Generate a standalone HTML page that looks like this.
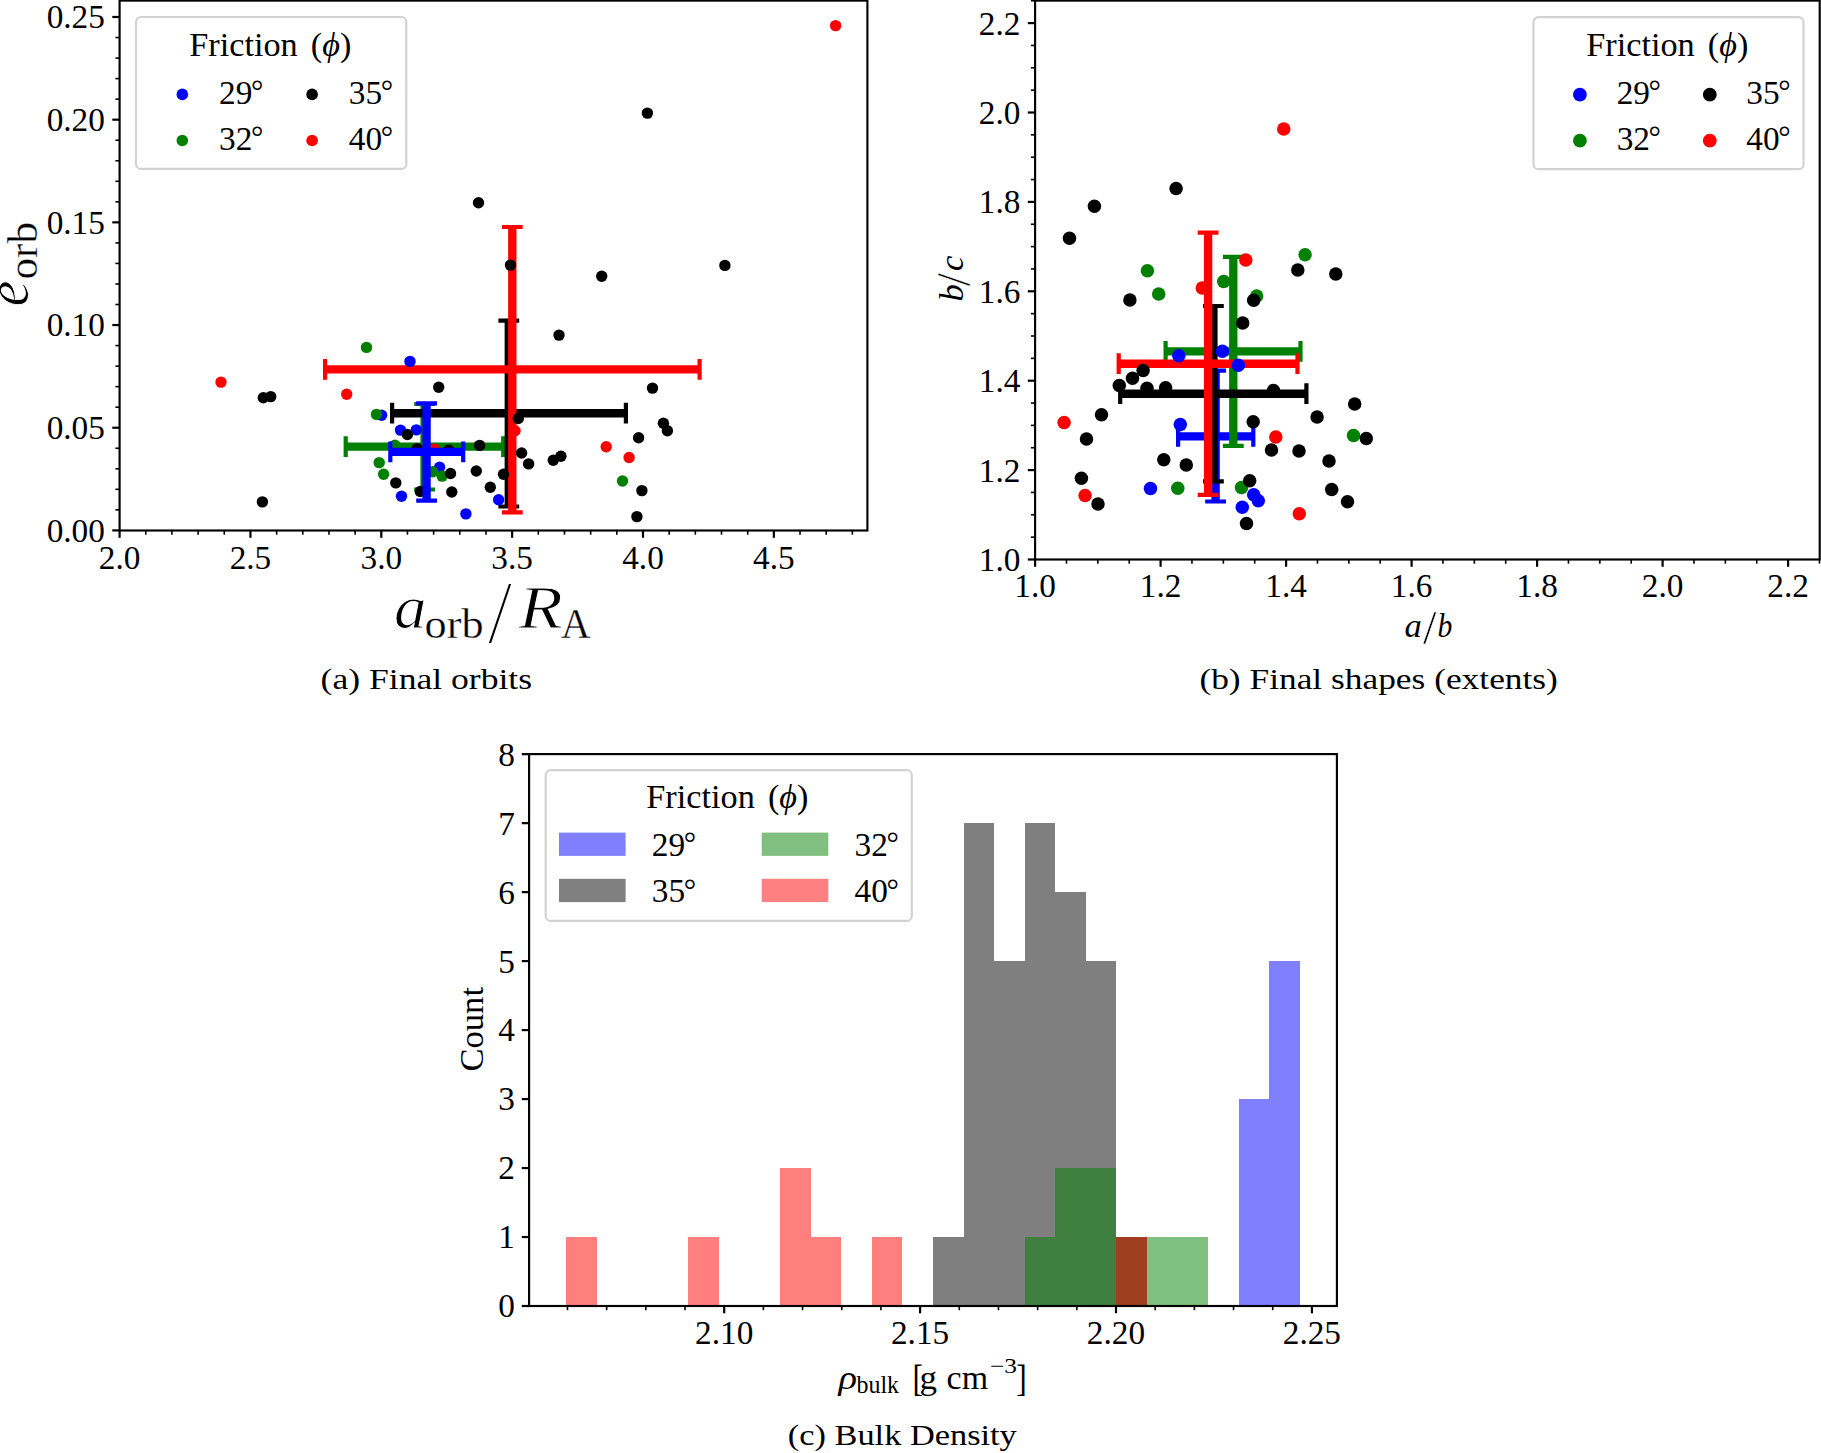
<!DOCTYPE html>
<html lang="en"><head><meta charset="utf-8"><title>Friction figure</title>
<style>html,body{margin:0;padding:0;background:#fff}svg{display:block}text{fill:#000}</style></head><body>
<svg width="1821" height="1453" viewBox="0 0 1821 1453" font-family='"Liberation Serif", "DejaVu Serif", serif'>
<rect width="1821" height="1453" fill="#fff"/>
<g id="plot-a">
<g stroke="#008000" fill="none">
<path d="M345.7 446.6H503.2M424.6 404V489.5" stroke-width="8.35"/>
<path d="M345.7 436.2v20.8M503.2 436.2v20.8M414.2 404h20.8M414.2 489.5h20.8" stroke-width="4.2"/>
</g>
<g stroke="#000000" fill="none">
<path d="M392.1 413.2H625.9M508.8 320.6V506.5" stroke-width="8.35"/>
<path d="M392.1 402.8v20.8M625.9 402.8v20.8M498.4 320.6h20.8M498.4 506.5h20.8" stroke-width="4.2"/>
</g>
<g stroke="#ff0000" fill="none">
<path d="M325.1 369.3H699.6M512.3 227V512.3" stroke-width="8.35"/>
<path d="M325.1 358.9v20.8M699.6 358.9v20.8M501.9 227h20.8M501.9 512.3h20.8" stroke-width="4.2"/>
</g>
<g fill="#0000ff"><circle cx="410" cy="361.4" r="5.7"/><circle cx="381.6" cy="415.2" r="5.7"/><circle cx="400.5" cy="430.1" r="5.7"/><circle cx="416.3" cy="429.9" r="5.7"/><circle cx="439.6" cy="467.2" r="5.7"/><circle cx="401.5" cy="496.2" r="5.7"/><circle cx="498.6" cy="499.8" r="5.7"/><circle cx="465.9" cy="513.9" r="5.7"/></g>
<g fill="#008000"><circle cx="366.5" cy="347.4" r="5.7"/><circle cx="376.5" cy="414.4" r="5.7"/><circle cx="395" cy="445.3" r="5.7"/><circle cx="379.2" cy="462.6" r="5.7"/><circle cx="383.6" cy="474.2" r="5.7"/><circle cx="432.7" cy="471.7" r="5.7"/><circle cx="442.1" cy="476.1" r="5.7"/><circle cx="622.5" cy="481" r="5.7"/></g>
<g fill="#000000"><circle cx="263.3" cy="397.8" r="5.7"/><circle cx="270.7" cy="396.6" r="5.7"/><circle cx="262.4" cy="501.9" r="5.7"/><circle cx="438.7" cy="387.2" r="5.7"/><circle cx="407.4" cy="434.5" r="5.7"/><circle cx="417.1" cy="448.6" r="5.7"/><circle cx="448.7" cy="450.1" r="5.7"/><circle cx="479.6" cy="445.4" r="5.7"/><circle cx="450.5" cy="473.5" r="5.7"/><circle cx="476.3" cy="471" r="5.7"/><circle cx="503.5" cy="474.2" r="5.7"/><circle cx="395.8" cy="482.9" r="5.7"/><circle cx="420.3" cy="491.5" r="5.7"/><circle cx="451.8" cy="492" r="5.7"/><circle cx="490.3" cy="487.2" r="5.7"/><circle cx="518.3" cy="418.5" r="5.7"/><circle cx="559" cy="335.1" r="5.7"/><circle cx="652.5" cy="388.1" r="5.7"/><circle cx="663.4" cy="423.2" r="5.7"/><circle cx="667.4" cy="430.8" r="5.7"/><circle cx="638.6" cy="437.8" r="5.7"/><circle cx="521.6" cy="453" r="5.7"/><circle cx="528.6" cy="463.9" r="5.7"/><circle cx="560.9" cy="456.2" r="5.7"/><circle cx="553.3" cy="460.2" r="5.7"/><circle cx="641.9" cy="490.6" r="5.7"/><circle cx="636.9" cy="516.6" r="5.7"/><circle cx="647.4" cy="113.1" r="5.7"/><circle cx="478.5" cy="202.7" r="5.7"/><circle cx="510.5" cy="265.1" r="5.7"/><circle cx="601.7" cy="276.2" r="5.7"/><circle cx="724.9" cy="265.4" r="5.7"/></g>
<g fill="#ff0000"><circle cx="221" cy="382.1" r="5.7"/><circle cx="346.7" cy="394.3" r="5.7"/><circle cx="434.2" cy="449.1" r="5.7"/><circle cx="515" cy="430.7" r="5.7"/><circle cx="606.2" cy="446.7" r="5.7"/><circle cx="629.1" cy="457.5" r="5.7"/><circle cx="835.6" cy="25.6" r="5.7"/></g>
<g stroke="#0000ff" fill="none">
<path d="M390.3 451.9H463.2M426.6 403.3V500.6" stroke-width="8.35"/>
<path d="M390.3 441.5v20.8M463.2 441.5v20.8M416.2 403.3h20.8M416.2 500.6h20.8" stroke-width="4.2"/>
</g>
<g stroke="#000">
<line x1="112.3" y1="530.4" x2="119.6" y2="530.4" stroke="#000" stroke-width="2.2" stroke-linecap="butt"/>
<line x1="115.4" y1="509.86" x2="119.6" y2="509.86" stroke="#000" stroke-width="1.6" stroke-linecap="butt"/>
<line x1="115.4" y1="489.33" x2="119.6" y2="489.33" stroke="#000" stroke-width="1.6" stroke-linecap="butt"/>
<line x1="115.4" y1="468.79" x2="119.6" y2="468.79" stroke="#000" stroke-width="1.6" stroke-linecap="butt"/>
<line x1="115.4" y1="448.26" x2="119.6" y2="448.26" stroke="#000" stroke-width="1.6" stroke-linecap="butt"/>
<line x1="112.3" y1="427.72" x2="119.6" y2="427.72" stroke="#000" stroke-width="2.2" stroke-linecap="butt"/>
<line x1="115.4" y1="407.18" x2="119.6" y2="407.18" stroke="#000" stroke-width="1.6" stroke-linecap="butt"/>
<line x1="115.4" y1="386.65" x2="119.6" y2="386.65" stroke="#000" stroke-width="1.6" stroke-linecap="butt"/>
<line x1="115.4" y1="366.11" x2="119.6" y2="366.11" stroke="#000" stroke-width="1.6" stroke-linecap="butt"/>
<line x1="115.4" y1="345.58" x2="119.6" y2="345.58" stroke="#000" stroke-width="1.6" stroke-linecap="butt"/>
<line x1="112.3" y1="325.04" x2="119.6" y2="325.04" stroke="#000" stroke-width="2.2" stroke-linecap="butt"/>
<line x1="115.4" y1="304.5" x2="119.6" y2="304.5" stroke="#000" stroke-width="1.6" stroke-linecap="butt"/>
<line x1="115.4" y1="283.97" x2="119.6" y2="283.97" stroke="#000" stroke-width="1.6" stroke-linecap="butt"/>
<line x1="115.4" y1="263.43" x2="119.6" y2="263.43" stroke="#000" stroke-width="1.6" stroke-linecap="butt"/>
<line x1="115.4" y1="242.9" x2="119.6" y2="242.9" stroke="#000" stroke-width="1.6" stroke-linecap="butt"/>
<line x1="112.3" y1="222.36" x2="119.6" y2="222.36" stroke="#000" stroke-width="2.2" stroke-linecap="butt"/>
<line x1="115.4" y1="201.82" x2="119.6" y2="201.82" stroke="#000" stroke-width="1.6" stroke-linecap="butt"/>
<line x1="115.4" y1="181.29" x2="119.6" y2="181.29" stroke="#000" stroke-width="1.6" stroke-linecap="butt"/>
<line x1="115.4" y1="160.75" x2="119.6" y2="160.75" stroke="#000" stroke-width="1.6" stroke-linecap="butt"/>
<line x1="115.4" y1="140.22" x2="119.6" y2="140.22" stroke="#000" stroke-width="1.6" stroke-linecap="butt"/>
<line x1="112.3" y1="119.68" x2="119.6" y2="119.68" stroke="#000" stroke-width="2.2" stroke-linecap="butt"/>
<line x1="115.4" y1="99.14" x2="119.6" y2="99.14" stroke="#000" stroke-width="1.6" stroke-linecap="butt"/>
<line x1="115.4" y1="78.61" x2="119.6" y2="78.61" stroke="#000" stroke-width="1.6" stroke-linecap="butt"/>
<line x1="115.4" y1="58.07" x2="119.6" y2="58.07" stroke="#000" stroke-width="1.6" stroke-linecap="butt"/>
<line x1="115.4" y1="37.54" x2="119.6" y2="37.54" stroke="#000" stroke-width="1.6" stroke-linecap="butt"/>
<line x1="112.3" y1="17" x2="119.6" y2="17" stroke="#000" stroke-width="2.2" stroke-linecap="butt"/>
<line x1="119.6" y1="530.5" x2="119.6" y2="537.8" stroke="#000" stroke-width="2.2" stroke-linecap="butt"/>
<line x1="145.77" y1="530.5" x2="145.77" y2="534.7" stroke="#000" stroke-width="1.6" stroke-linecap="butt"/>
<line x1="171.94" y1="530.5" x2="171.94" y2="534.7" stroke="#000" stroke-width="1.6" stroke-linecap="butt"/>
<line x1="198.11" y1="530.5" x2="198.11" y2="534.7" stroke="#000" stroke-width="1.6" stroke-linecap="butt"/>
<line x1="224.28" y1="530.5" x2="224.28" y2="534.7" stroke="#000" stroke-width="1.6" stroke-linecap="butt"/>
<line x1="250.45" y1="530.5" x2="250.45" y2="537.8" stroke="#000" stroke-width="2.2" stroke-linecap="butt"/>
<line x1="276.62" y1="530.5" x2="276.62" y2="534.7" stroke="#000" stroke-width="1.6" stroke-linecap="butt"/>
<line x1="302.79" y1="530.5" x2="302.79" y2="534.7" stroke="#000" stroke-width="1.6" stroke-linecap="butt"/>
<line x1="328.96" y1="530.5" x2="328.96" y2="534.7" stroke="#000" stroke-width="1.6" stroke-linecap="butt"/>
<line x1="355.13" y1="530.5" x2="355.13" y2="534.7" stroke="#000" stroke-width="1.6" stroke-linecap="butt"/>
<line x1="381.3" y1="530.5" x2="381.3" y2="537.8" stroke="#000" stroke-width="2.2" stroke-linecap="butt"/>
<line x1="407.47" y1="530.5" x2="407.47" y2="534.7" stroke="#000" stroke-width="1.6" stroke-linecap="butt"/>
<line x1="433.64" y1="530.5" x2="433.64" y2="534.7" stroke="#000" stroke-width="1.6" stroke-linecap="butt"/>
<line x1="459.81" y1="530.5" x2="459.81" y2="534.7" stroke="#000" stroke-width="1.6" stroke-linecap="butt"/>
<line x1="485.98" y1="530.5" x2="485.98" y2="534.7" stroke="#000" stroke-width="1.6" stroke-linecap="butt"/>
<line x1="512.15" y1="530.5" x2="512.15" y2="537.8" stroke="#000" stroke-width="2.2" stroke-linecap="butt"/>
<line x1="538.32" y1="530.5" x2="538.32" y2="534.7" stroke="#000" stroke-width="1.6" stroke-linecap="butt"/>
<line x1="564.49" y1="530.5" x2="564.49" y2="534.7" stroke="#000" stroke-width="1.6" stroke-linecap="butt"/>
<line x1="590.66" y1="530.5" x2="590.66" y2="534.7" stroke="#000" stroke-width="1.6" stroke-linecap="butt"/>
<line x1="616.83" y1="530.5" x2="616.83" y2="534.7" stroke="#000" stroke-width="1.6" stroke-linecap="butt"/>
<line x1="643" y1="530.5" x2="643" y2="537.8" stroke="#000" stroke-width="2.2" stroke-linecap="butt"/>
<line x1="669.17" y1="530.5" x2="669.17" y2="534.7" stroke="#000" stroke-width="1.6" stroke-linecap="butt"/>
<line x1="695.34" y1="530.5" x2="695.34" y2="534.7" stroke="#000" stroke-width="1.6" stroke-linecap="butt"/>
<line x1="721.51" y1="530.5" x2="721.51" y2="534.7" stroke="#000" stroke-width="1.6" stroke-linecap="butt"/>
<line x1="747.68" y1="530.5" x2="747.68" y2="534.7" stroke="#000" stroke-width="1.6" stroke-linecap="butt"/>
<line x1="773.85" y1="530.5" x2="773.85" y2="537.8" stroke="#000" stroke-width="2.2" stroke-linecap="butt"/>
<line x1="800.02" y1="530.5" x2="800.02" y2="534.7" stroke="#000" stroke-width="1.6" stroke-linecap="butt"/>
<line x1="826.19" y1="530.5" x2="826.19" y2="534.7" stroke="#000" stroke-width="1.6" stroke-linecap="butt"/>
<line x1="852.36" y1="530.5" x2="852.36" y2="534.7" stroke="#000" stroke-width="1.6" stroke-linecap="butt"/>
</g>
<rect x="119.6" y="0.6" width="747.8" height="529.9" fill="none" stroke="#000" stroke-width="2.15"/>
<text x="104.9" y="541.8" font-size="34.4" text-anchor="end" textLength="58.27" lengthAdjust="spacingAndGlyphs">0.00</text>
<text x="104.9" y="439.12" font-size="34.4" text-anchor="end" textLength="58.27" lengthAdjust="spacingAndGlyphs">0.05</text>
<text x="104.9" y="336.44" font-size="34.4" text-anchor="end" textLength="58.27" lengthAdjust="spacingAndGlyphs">0.10</text>
<text x="104.9" y="233.76" font-size="34.4" text-anchor="end" textLength="58.27" lengthAdjust="spacingAndGlyphs">0.15</text>
<text x="104.9" y="131.08" font-size="34.4" text-anchor="end" textLength="58.27" lengthAdjust="spacingAndGlyphs">0.20</text>
<text x="104.9" y="28.4" font-size="34.4" text-anchor="end" textLength="58.27" lengthAdjust="spacingAndGlyphs">0.25</text>
<text x="119.6" y="568.8" font-size="34.4" text-anchor="middle" textLength="41.62" lengthAdjust="spacingAndGlyphs">2.0</text>
<text x="250.45" y="568.8" font-size="34.4" text-anchor="middle" textLength="41.62" lengthAdjust="spacingAndGlyphs">2.5</text>
<text x="381.3" y="568.8" font-size="34.4" text-anchor="middle" textLength="41.62" lengthAdjust="spacingAndGlyphs">3.0</text>
<text x="512.15" y="568.8" font-size="34.4" text-anchor="middle" textLength="41.62" lengthAdjust="spacingAndGlyphs">3.5</text>
<text x="643" y="568.8" font-size="34.4" text-anchor="middle" textLength="41.62" lengthAdjust="spacingAndGlyphs">4.0</text>
<text x="773.85" y="568.8" font-size="34.4" text-anchor="middle" textLength="41.62" lengthAdjust="spacingAndGlyphs">4.5</text>
<rect x="136" y="17" width="270.3" height="151.9" rx="5" ry="5" fill="#fff" fill-opacity="0.8" stroke="#d2d2d2" stroke-width="2.2"/>
<text x="189.2" y="56" font-size="33.3" textLength="108.5" lengthAdjust="spacingAndGlyphs">Friction</text>
<text x="310.8" y="56" font-size="33.3" textLength="40.5" lengthAdjust="spacingAndGlyphs">(<tspan font-style="italic">ϕ</tspan>)</text>
<circle cx="182.3" cy="94.4" r="5.8" fill="#0000ff"/>
<circle cx="182.3" cy="140.5" r="5.8" fill="#008000"/>
<circle cx="312.1" cy="94.4" r="5.8" fill="#000000"/>
<circle cx="312.1" cy="140.5" r="5.8" fill="#ff0000"/>
<text x="219" y="103.8" font-size="34.4" textLength="33.3" lengthAdjust="spacingAndGlyphs">29</text>
<text x="250.9" y="102.1" font-size="31">°</text>
<text x="219" y="149.7" font-size="34.4" textLength="33.3" lengthAdjust="spacingAndGlyphs">32</text>
<text x="250.9" y="148" font-size="31">°</text>
<text x="348.8" y="103.8" font-size="34.4" textLength="33.3" lengthAdjust="spacingAndGlyphs">35</text>
<text x="380.7" y="102.1" font-size="31">°</text>
<text x="348.8" y="149.7" font-size="34.4" textLength="33.3" lengthAdjust="spacingAndGlyphs">40</text>
<text x="380.7" y="148" font-size="31">°</text>
<text x="394" y="628.3" font-size="61" font-style="italic" stroke="#fff" stroke-width="0.9" textLength="32.5" lengthAdjust="spacingAndGlyphs">a</text>
<text x="424.6" y="638.3" font-size="42.5" stroke="#fff" stroke-width="0.35" textLength="59" lengthAdjust="spacingAndGlyphs">orb</text>
<text x="487.4" y="643.4" font-size="90" stroke="#fff" stroke-width="2">/</text>
<text x="518.8" y="628.3" font-size="61" font-style="italic" stroke="#fff" stroke-width="0.9" textLength="44" lengthAdjust="spacingAndGlyphs">R</text>
<text x="561" y="638.3" font-size="42" stroke="#fff" stroke-width="0.35" textLength="29.5" lengthAdjust="spacingAndGlyphs">A</text>
<g transform="rotate(-90)">
<text x="-306.5" y="28.4" font-size="61" font-style="italic" stroke="#fff" stroke-width="0.9" textLength="26" lengthAdjust="spacingAndGlyphs">e</text>
<text x="-279.5" y="37" font-size="42.5" stroke="#fff" stroke-width="0.35" textLength="57.5" lengthAdjust="spacingAndGlyphs">orb</text>
</g>
<text x="320.6" y="688.5" font-size="30" textLength="211.5" lengthAdjust="spacingAndGlyphs">(a) Final orbits</text>
</g>
<g id="plot-b">
<g stroke="#0000ff" fill="none">
<path d="M1178.1 436.4H1253.3M1215.6 370.6V501.5" stroke-width="8.35"/>
<path d="M1178.1 426v20.8M1253.3 426v20.8M1205.2 370.6h20.8M1205.2 501.5h20.8" stroke-width="4.2"/>
</g>
<g stroke="#008000" fill="none">
<path d="M1165.6 351.3H1300.5M1233.3 256.9V445.8" stroke-width="8.35"/>
<path d="M1165.6 340.9v20.8M1300.5 340.9v20.8M1222.9 256.9h20.8M1222.9 445.8h20.8" stroke-width="4.2"/>
</g>
<g stroke="#000000" fill="none">
<path d="M1120.2 393.7H1306.4M1213.4 306V481.4" stroke-width="8.35"/>
<path d="M1120.2 383.3v20.8M1306.4 383.3v20.8M1203 306h20.8M1203 481.4h20.8" stroke-width="4.2"/>
</g>
<g stroke="#ff0000" fill="none">
<path d="M1118.7 363.7H1297.5M1208.1 232.7V494.8" stroke-width="8.35"/>
<path d="M1118.7 353.3v20.8M1297.5 353.3v20.8M1197.7 232.7h20.8M1197.7 494.8h20.8" stroke-width="4.2"/>
</g>
<g fill="#0000ff"><circle cx="1178.8" cy="355.7" r="6.75"/><circle cx="1222.4" cy="351.3" r="6.75"/><circle cx="1238.3" cy="365.2" r="6.75"/><circle cx="1180.3" cy="424.4" r="6.75"/><circle cx="1253.7" cy="494.8" r="6.75"/><circle cx="1258.3" cy="500.8" r="6.75"/><circle cx="1242.3" cy="507.2" r="6.75"/><circle cx="1150.5" cy="488.4" r="6.75"/></g>
<g fill="#008000"><circle cx="1147.4" cy="270.7" r="6.75"/><circle cx="1158.7" cy="294.1" r="6.75"/><circle cx="1223.7" cy="281.6" r="6.75"/><circle cx="1256.7" cy="296.1" r="6.75"/><circle cx="1305.1" cy="254.8" r="6.75"/><circle cx="1177.8" cy="488.2" r="6.75"/><circle cx="1241.5" cy="487.4" r="6.75"/><circle cx="1353.5" cy="435.5" r="6.75"/></g>
<g fill="#000000"><circle cx="1176.1" cy="188.4" r="6.75"/><circle cx="1094.4" cy="206.3" r="6.75"/><circle cx="1069.5" cy="238.2" r="6.75"/><circle cx="1129.9" cy="299.9" r="6.75"/><circle cx="1253.7" cy="300.2" r="6.75"/><circle cx="1242.7" cy="323.1" r="6.75"/><circle cx="1143.1" cy="370.6" r="6.75"/><circle cx="1132.5" cy="378.3" r="6.75"/><circle cx="1119.3" cy="385.4" r="6.75"/><circle cx="1147" cy="388.2" r="6.75"/><circle cx="1165.6" cy="387.8" r="6.75"/><circle cx="1101.5" cy="414.8" r="6.75"/><circle cx="1086.5" cy="438.9" r="6.75"/><circle cx="1273.5" cy="390.4" r="6.75"/><circle cx="1253.2" cy="421.8" r="6.75"/><circle cx="1317.1" cy="417" r="6.75"/><circle cx="1271.5" cy="450" r="6.75"/><circle cx="1299" cy="451" r="6.75"/><circle cx="1329" cy="460.9" r="6.75"/><circle cx="1163.8" cy="459.8" r="6.75"/><circle cx="1186.3" cy="465.1" r="6.75"/><circle cx="1249.7" cy="480.8" r="6.75"/><circle cx="1246.5" cy="523.6" r="6.75"/><circle cx="1331.7" cy="489.6" r="6.75"/><circle cx="1297.8" cy="270" r="6.75"/><circle cx="1335.8" cy="274" r="6.75"/><circle cx="1354.7" cy="404.1" r="6.75"/><circle cx="1366.3" cy="438.5" r="6.75"/><circle cx="1347.5" cy="501.7" r="6.75"/><circle cx="1081.4" cy="478.3" r="6.75"/><circle cx="1098" cy="504" r="6.75"/></g>
<g fill="#ff0000"><circle cx="1283.75" cy="128.9" r="6.75"/><circle cx="1245.8" cy="260" r="6.75"/><circle cx="1202.3" cy="287.9" r="6.75"/><circle cx="1064.1" cy="422.4" r="6.75"/><circle cx="1275.8" cy="437" r="6.75"/><circle cx="1299.3" cy="513.8" r="6.75"/><circle cx="1085.1" cy="495.6" r="6.75"/></g>
<g stroke="#000">
<line x1="1027.8" y1="559.5" x2="1035.1" y2="559.5" stroke="#000" stroke-width="2.2" stroke-linecap="butt"/>
<line x1="1030.9" y1="537.15" x2="1035.1" y2="537.15" stroke="#000" stroke-width="1.6" stroke-linecap="butt"/>
<line x1="1030.9" y1="514.8" x2="1035.1" y2="514.8" stroke="#000" stroke-width="1.6" stroke-linecap="butt"/>
<line x1="1030.9" y1="492.45" x2="1035.1" y2="492.45" stroke="#000" stroke-width="1.6" stroke-linecap="butt"/>
<line x1="1027.8" y1="470.1" x2="1035.1" y2="470.1" stroke="#000" stroke-width="2.2" stroke-linecap="butt"/>
<line x1="1030.9" y1="447.75" x2="1035.1" y2="447.75" stroke="#000" stroke-width="1.6" stroke-linecap="butt"/>
<line x1="1030.9" y1="425.4" x2="1035.1" y2="425.4" stroke="#000" stroke-width="1.6" stroke-linecap="butt"/>
<line x1="1030.9" y1="403.05" x2="1035.1" y2="403.05" stroke="#000" stroke-width="1.6" stroke-linecap="butt"/>
<line x1="1027.8" y1="380.7" x2="1035.1" y2="380.7" stroke="#000" stroke-width="2.2" stroke-linecap="butt"/>
<line x1="1030.9" y1="358.35" x2="1035.1" y2="358.35" stroke="#000" stroke-width="1.6" stroke-linecap="butt"/>
<line x1="1030.9" y1="336" x2="1035.1" y2="336" stroke="#000" stroke-width="1.6" stroke-linecap="butt"/>
<line x1="1030.9" y1="313.65" x2="1035.1" y2="313.65" stroke="#000" stroke-width="1.6" stroke-linecap="butt"/>
<line x1="1027.8" y1="291.3" x2="1035.1" y2="291.3" stroke="#000" stroke-width="2.2" stroke-linecap="butt"/>
<line x1="1030.9" y1="268.95" x2="1035.1" y2="268.95" stroke="#000" stroke-width="1.6" stroke-linecap="butt"/>
<line x1="1030.9" y1="246.6" x2="1035.1" y2="246.6" stroke="#000" stroke-width="1.6" stroke-linecap="butt"/>
<line x1="1030.9" y1="224.25" x2="1035.1" y2="224.25" stroke="#000" stroke-width="1.6" stroke-linecap="butt"/>
<line x1="1027.8" y1="201.9" x2="1035.1" y2="201.9" stroke="#000" stroke-width="2.2" stroke-linecap="butt"/>
<line x1="1030.9" y1="179.55" x2="1035.1" y2="179.55" stroke="#000" stroke-width="1.6" stroke-linecap="butt"/>
<line x1="1030.9" y1="157.2" x2="1035.1" y2="157.2" stroke="#000" stroke-width="1.6" stroke-linecap="butt"/>
<line x1="1030.9" y1="134.85" x2="1035.1" y2="134.85" stroke="#000" stroke-width="1.6" stroke-linecap="butt"/>
<line x1="1027.8" y1="112.5" x2="1035.1" y2="112.5" stroke="#000" stroke-width="2.2" stroke-linecap="butt"/>
<line x1="1030.9" y1="90.15" x2="1035.1" y2="90.15" stroke="#000" stroke-width="1.6" stroke-linecap="butt"/>
<line x1="1030.9" y1="67.8" x2="1035.1" y2="67.8" stroke="#000" stroke-width="1.6" stroke-linecap="butt"/>
<line x1="1030.9" y1="45.45" x2="1035.1" y2="45.45" stroke="#000" stroke-width="1.6" stroke-linecap="butt"/>
<line x1="1027.8" y1="23.1" x2="1035.1" y2="23.1" stroke="#000" stroke-width="2.2" stroke-linecap="butt"/>
<line x1="1030.9" y1="0.75" x2="1035.1" y2="0.75" stroke="#000" stroke-width="1.6" stroke-linecap="butt"/>
<line x1="1035.1" y1="559.5" x2="1035.1" y2="566.8" stroke="#000" stroke-width="2.2" stroke-linecap="butt"/>
<line x1="1066.47" y1="559.5" x2="1066.47" y2="563.7" stroke="#000" stroke-width="1.6" stroke-linecap="butt"/>
<line x1="1097.85" y1="559.5" x2="1097.85" y2="563.7" stroke="#000" stroke-width="1.6" stroke-linecap="butt"/>
<line x1="1129.22" y1="559.5" x2="1129.22" y2="563.7" stroke="#000" stroke-width="1.6" stroke-linecap="butt"/>
<line x1="1160.6" y1="559.5" x2="1160.6" y2="566.8" stroke="#000" stroke-width="2.2" stroke-linecap="butt"/>
<line x1="1191.97" y1="559.5" x2="1191.97" y2="563.7" stroke="#000" stroke-width="1.6" stroke-linecap="butt"/>
<line x1="1223.35" y1="559.5" x2="1223.35" y2="563.7" stroke="#000" stroke-width="1.6" stroke-linecap="butt"/>
<line x1="1254.72" y1="559.5" x2="1254.72" y2="563.7" stroke="#000" stroke-width="1.6" stroke-linecap="butt"/>
<line x1="1286.1" y1="559.5" x2="1286.1" y2="566.8" stroke="#000" stroke-width="2.2" stroke-linecap="butt"/>
<line x1="1317.47" y1="559.5" x2="1317.47" y2="563.7" stroke="#000" stroke-width="1.6" stroke-linecap="butt"/>
<line x1="1348.85" y1="559.5" x2="1348.85" y2="563.7" stroke="#000" stroke-width="1.6" stroke-linecap="butt"/>
<line x1="1380.22" y1="559.5" x2="1380.22" y2="563.7" stroke="#000" stroke-width="1.6" stroke-linecap="butt"/>
<line x1="1411.6" y1="559.5" x2="1411.6" y2="566.8" stroke="#000" stroke-width="2.2" stroke-linecap="butt"/>
<line x1="1442.97" y1="559.5" x2="1442.97" y2="563.7" stroke="#000" stroke-width="1.6" stroke-linecap="butt"/>
<line x1="1474.35" y1="559.5" x2="1474.35" y2="563.7" stroke="#000" stroke-width="1.6" stroke-linecap="butt"/>
<line x1="1505.72" y1="559.5" x2="1505.72" y2="563.7" stroke="#000" stroke-width="1.6" stroke-linecap="butt"/>
<line x1="1537.1" y1="559.5" x2="1537.1" y2="566.8" stroke="#000" stroke-width="2.2" stroke-linecap="butt"/>
<line x1="1568.47" y1="559.5" x2="1568.47" y2="563.7" stroke="#000" stroke-width="1.6" stroke-linecap="butt"/>
<line x1="1599.85" y1="559.5" x2="1599.85" y2="563.7" stroke="#000" stroke-width="1.6" stroke-linecap="butt"/>
<line x1="1631.22" y1="559.5" x2="1631.22" y2="563.7" stroke="#000" stroke-width="1.6" stroke-linecap="butt"/>
<line x1="1662.6" y1="559.5" x2="1662.6" y2="566.8" stroke="#000" stroke-width="2.2" stroke-linecap="butt"/>
<line x1="1693.97" y1="559.5" x2="1693.97" y2="563.7" stroke="#000" stroke-width="1.6" stroke-linecap="butt"/>
<line x1="1725.35" y1="559.5" x2="1725.35" y2="563.7" stroke="#000" stroke-width="1.6" stroke-linecap="butt"/>
<line x1="1756.73" y1="559.5" x2="1756.73" y2="563.7" stroke="#000" stroke-width="1.6" stroke-linecap="butt"/>
<line x1="1788.1" y1="559.5" x2="1788.1" y2="566.8" stroke="#000" stroke-width="2.2" stroke-linecap="butt"/>
<line x1="1819.47" y1="559.5" x2="1819.47" y2="563.7" stroke="#000" stroke-width="1.6" stroke-linecap="butt"/>
</g>
<rect x="1035.1" y="0.6" width="784.6" height="558.9" fill="none" stroke="#000" stroke-width="2.15"/>
<text x="1020.4" y="571" font-size="34.4" text-anchor="end" textLength="41.62" lengthAdjust="spacingAndGlyphs">1.0</text>
<text x="1035.1" y="596.8" font-size="34.4" text-anchor="middle" textLength="41.62" lengthAdjust="spacingAndGlyphs">1.0</text>
<text x="1020.4" y="481.6" font-size="34.4" text-anchor="end" textLength="41.62" lengthAdjust="spacingAndGlyphs">1.2</text>
<text x="1160.6" y="596.8" font-size="34.4" text-anchor="middle" textLength="41.62" lengthAdjust="spacingAndGlyphs">1.2</text>
<text x="1020.4" y="392.2" font-size="34.4" text-anchor="end" textLength="41.62" lengthAdjust="spacingAndGlyphs">1.4</text>
<text x="1286.1" y="596.8" font-size="34.4" text-anchor="middle" textLength="41.62" lengthAdjust="spacingAndGlyphs">1.4</text>
<text x="1020.4" y="302.8" font-size="34.4" text-anchor="end" textLength="41.62" lengthAdjust="spacingAndGlyphs">1.6</text>
<text x="1411.6" y="596.8" font-size="34.4" text-anchor="middle" textLength="41.62" lengthAdjust="spacingAndGlyphs">1.6</text>
<text x="1020.4" y="213.4" font-size="34.4" text-anchor="end" textLength="41.62" lengthAdjust="spacingAndGlyphs">1.8</text>
<text x="1537.1" y="596.8" font-size="34.4" text-anchor="middle" textLength="41.62" lengthAdjust="spacingAndGlyphs">1.8</text>
<text x="1020.4" y="124" font-size="34.4" text-anchor="end" textLength="41.62" lengthAdjust="spacingAndGlyphs">2.0</text>
<text x="1662.6" y="596.8" font-size="34.4" text-anchor="middle" textLength="41.62" lengthAdjust="spacingAndGlyphs">2.0</text>
<text x="1020.4" y="34.6" font-size="34.4" text-anchor="end" textLength="41.62" lengthAdjust="spacingAndGlyphs">2.2</text>
<text x="1788.1" y="596.8" font-size="34.4" text-anchor="middle" textLength="41.62" lengthAdjust="spacingAndGlyphs">2.2</text>
<rect x="1533.5" y="17.1" width="270" height="152.1" rx="5" ry="5" fill="#fff" fill-opacity="0.8" stroke="#d2d2d2" stroke-width="2.2"/>
<text x="1586.2" y="56" font-size="33.3" textLength="108.5" lengthAdjust="spacingAndGlyphs">Friction</text>
<text x="1707.8" y="56" font-size="33.3" textLength="40.5" lengthAdjust="spacingAndGlyphs">(<tspan font-style="italic">ϕ</tspan>)</text>
<circle cx="1579.9" cy="94.7" r="6.9" fill="#0000ff"/>
<circle cx="1579.9" cy="140.7" r="6.9" fill="#008000"/>
<circle cx="1709.8" cy="94.7" r="6.9" fill="#000000"/>
<circle cx="1709.8" cy="140.7" r="6.9" fill="#ff0000"/>
<text x="1616.7" y="104" font-size="34.4" textLength="33.3" lengthAdjust="spacingAndGlyphs">29</text>
<text x="1648.6" y="102.3" font-size="31">°</text>
<text x="1616.7" y="149.9" font-size="34.4" textLength="33.3" lengthAdjust="spacingAndGlyphs">32</text>
<text x="1648.6" y="148.2" font-size="31">°</text>
<text x="1746.3" y="104" font-size="34.4" textLength="33.3" lengthAdjust="spacingAndGlyphs">35</text>
<text x="1778.2" y="102.3" font-size="31">°</text>
<text x="1746.3" y="149.9" font-size="34.4" textLength="33.3" lengthAdjust="spacingAndGlyphs">40</text>
<text x="1778.2" y="148.2" font-size="31">°</text>
<text x="1404.5" y="636.6" font-size="34.5" font-style="italic">a</text>
<text x="1423.0" y="644.2" font-size="48.5" stroke="#fff" stroke-width="0.5">/</text>
<text x="1437.5" y="636.6" font-size="34.5" font-style="italic" textLength="14.8" lengthAdjust="spacingAndGlyphs">b</text>
<g transform="rotate(-90)">
<text x="-301.5" y="962.9" font-size="34.5" font-style="italic">b</text>
<text x="-286.2" y="970.3" font-size="47.5" stroke="#fff" stroke-width="0.5">/</text>
<text x="-271" y="962.9" font-size="34.5" font-style="italic">c</text>
</g>
<text x="1199.4" y="688.6" font-size="30" textLength="358.5" lengthAdjust="spacingAndGlyphs">(b) Final shapes (extents)</text>
</g>
<g id="plot-c">
<g fill="#0000ff" fill-opacity="0.5" shape-rendering="crispEdges">
<rect x="1238.74" y="1099.06" width="30.57" height="206.94"/>
<rect x="1269.31" y="961.1" width="30.57" height="344.9"/>
</g>
<g fill="#000000" fill-opacity="0.5" shape-rendering="crispEdges">
<rect x="933.04" y="1237.02" width="30.57" height="68.98"/>
<rect x="963.61" y="823.14" width="30.57" height="482.86"/>
<rect x="994.18" y="961.1" width="30.57" height="344.9"/>
<rect x="1024.75" y="823.14" width="30.57" height="482.86"/>
<rect x="1055.32" y="892.12" width="30.57" height="413.88"/>
<rect x="1085.89" y="961.1" width="30.57" height="344.9"/>
<rect x="1116.46" y="1237.02" width="30.57" height="68.98"/>
</g>
<g fill="#008000" fill-opacity="0.5" shape-rendering="crispEdges">
<rect x="1024.75" y="1237.02" width="30.57" height="68.98"/>
<rect x="1055.32" y="1168.04" width="30.57" height="137.96"/>
<rect x="1085.89" y="1168.04" width="30.57" height="137.96"/>
<rect x="1116.46" y="1237.02" width="30.57" height="68.98"/>
<rect x="1147.03" y="1237.02" width="30.57" height="68.98"/>
<rect x="1177.6" y="1237.02" width="30.57" height="68.98"/>
</g>
<g fill="#ff0000" fill-opacity="0.5" shape-rendering="crispEdges">
<rect x="566.2" y="1237.02" width="30.57" height="68.98"/>
<rect x="688.48" y="1237.02" width="30.57" height="68.98"/>
<rect x="780.19" y="1168.04" width="30.57" height="137.96"/>
<rect x="810.76" y="1237.02" width="30.57" height="68.98"/>
<rect x="871.9" y="1237.02" width="30.57" height="68.98"/>
<rect x="1116.46" y="1237.02" width="30.57" height="68.98"/>
</g>
<g stroke="#000">
<line x1="521.8" y1="1306" x2="529.1" y2="1306" stroke="#000" stroke-width="2.2" stroke-linecap="butt"/>
<line x1="521.8" y1="1237.02" x2="529.1" y2="1237.02" stroke="#000" stroke-width="2.2" stroke-linecap="butt"/>
<line x1="521.8" y1="1168.04" x2="529.1" y2="1168.04" stroke="#000" stroke-width="2.2" stroke-linecap="butt"/>
<line x1="521.8" y1="1099.06" x2="529.1" y2="1099.06" stroke="#000" stroke-width="2.2" stroke-linecap="butt"/>
<line x1="521.8" y1="1030.08" x2="529.1" y2="1030.08" stroke="#000" stroke-width="2.2" stroke-linecap="butt"/>
<line x1="521.8" y1="961.1" x2="529.1" y2="961.1" stroke="#000" stroke-width="2.2" stroke-linecap="butt"/>
<line x1="521.8" y1="892.12" x2="529.1" y2="892.12" stroke="#000" stroke-width="2.2" stroke-linecap="butt"/>
<line x1="521.8" y1="823.14" x2="529.1" y2="823.14" stroke="#000" stroke-width="2.2" stroke-linecap="butt"/>
<line x1="521.8" y1="754.16" x2="529.1" y2="754.16" stroke="#000" stroke-width="2.2" stroke-linecap="butt"/>
<line x1="567.48" y1="1306" x2="567.48" y2="1310.2" stroke="#000" stroke-width="1.6" stroke-linecap="butt"/>
<line x1="606.66" y1="1306" x2="606.66" y2="1310.2" stroke="#000" stroke-width="1.6" stroke-linecap="butt"/>
<line x1="645.84" y1="1306" x2="645.84" y2="1310.2" stroke="#000" stroke-width="1.6" stroke-linecap="butt"/>
<line x1="685.02" y1="1306" x2="685.02" y2="1310.2" stroke="#000" stroke-width="1.6" stroke-linecap="butt"/>
<line x1="724.2" y1="1306" x2="724.2" y2="1313.3" stroke="#000" stroke-width="2.2" stroke-linecap="butt"/>
<line x1="763.38" y1="1306" x2="763.38" y2="1310.2" stroke="#000" stroke-width="1.6" stroke-linecap="butt"/>
<line x1="802.56" y1="1306" x2="802.56" y2="1310.2" stroke="#000" stroke-width="1.6" stroke-linecap="butt"/>
<line x1="841.74" y1="1306" x2="841.74" y2="1310.2" stroke="#000" stroke-width="1.6" stroke-linecap="butt"/>
<line x1="880.92" y1="1306" x2="880.92" y2="1310.2" stroke="#000" stroke-width="1.6" stroke-linecap="butt"/>
<line x1="920.1" y1="1306" x2="920.1" y2="1313.3" stroke="#000" stroke-width="2.2" stroke-linecap="butt"/>
<line x1="959.28" y1="1306" x2="959.28" y2="1310.2" stroke="#000" stroke-width="1.6" stroke-linecap="butt"/>
<line x1="998.46" y1="1306" x2="998.46" y2="1310.2" stroke="#000" stroke-width="1.6" stroke-linecap="butt"/>
<line x1="1037.64" y1="1306" x2="1037.64" y2="1310.2" stroke="#000" stroke-width="1.6" stroke-linecap="butt"/>
<line x1="1076.82" y1="1306" x2="1076.82" y2="1310.2" stroke="#000" stroke-width="1.6" stroke-linecap="butt"/>
<line x1="1116" y1="1306" x2="1116" y2="1313.3" stroke="#000" stroke-width="2.2" stroke-linecap="butt"/>
<line x1="1155.18" y1="1306" x2="1155.18" y2="1310.2" stroke="#000" stroke-width="1.6" stroke-linecap="butt"/>
<line x1="1194.36" y1="1306" x2="1194.36" y2="1310.2" stroke="#000" stroke-width="1.6" stroke-linecap="butt"/>
<line x1="1233.54" y1="1306" x2="1233.54" y2="1310.2" stroke="#000" stroke-width="1.6" stroke-linecap="butt"/>
<line x1="1272.72" y1="1306" x2="1272.72" y2="1310.2" stroke="#000" stroke-width="1.6" stroke-linecap="butt"/>
<line x1="1311.9" y1="1306" x2="1311.9" y2="1313.3" stroke="#000" stroke-width="2.2" stroke-linecap="butt"/>
</g>
<rect x="529.1" y="754.1" width="807.8" height="551.9" fill="none" stroke="#000" stroke-width="2.15"/>
<text x="515" y="1317.4" font-size="34.4" text-anchor="end" textLength="16.65" lengthAdjust="spacingAndGlyphs">0</text>
<text x="515" y="1248.42" font-size="34.4" text-anchor="end" textLength="16.65" lengthAdjust="spacingAndGlyphs">1</text>
<text x="515" y="1179.44" font-size="34.4" text-anchor="end" textLength="16.65" lengthAdjust="spacingAndGlyphs">2</text>
<text x="515" y="1110.46" font-size="34.4" text-anchor="end" textLength="16.65" lengthAdjust="spacingAndGlyphs">3</text>
<text x="515" y="1041.48" font-size="34.4" text-anchor="end" textLength="16.65" lengthAdjust="spacingAndGlyphs">4</text>
<text x="515" y="972.5" font-size="34.4" text-anchor="end" textLength="16.65" lengthAdjust="spacingAndGlyphs">5</text>
<text x="515" y="903.52" font-size="34.4" text-anchor="end" textLength="16.65" lengthAdjust="spacingAndGlyphs">6</text>
<text x="515" y="834.54" font-size="34.4" text-anchor="end" textLength="16.65" lengthAdjust="spacingAndGlyphs">7</text>
<text x="515" y="765.56" font-size="34.4" text-anchor="end" textLength="16.65" lengthAdjust="spacingAndGlyphs">8</text>
<text x="724.2" y="1343.7" font-size="34.4" text-anchor="middle" textLength="58.27" lengthAdjust="spacingAndGlyphs">2.10</text>
<text x="920.1" y="1343.7" font-size="34.4" text-anchor="middle" textLength="58.27" lengthAdjust="spacingAndGlyphs">2.15</text>
<text x="1116" y="1343.7" font-size="34.4" text-anchor="middle" textLength="58.27" lengthAdjust="spacingAndGlyphs">2.20</text>
<text x="1311.9" y="1343.7" font-size="34.4" text-anchor="middle" textLength="58.27" lengthAdjust="spacingAndGlyphs">2.25</text>
<rect x="545.7" y="770.2" width="366.1" height="150.7" rx="5" ry="5" fill="#fff" fill-opacity="0.8" stroke="#d2d2d2" stroke-width="2.2"/>
<text x="646.3" y="808" font-size="33.3" textLength="108.5" lengthAdjust="spacingAndGlyphs">Friction</text>
<text x="767.9" y="808" font-size="33.3" textLength="40.5" lengthAdjust="spacingAndGlyphs">(<tspan font-style="italic">ϕ</tspan>)</text>
<rect x="559.0" y="832.6" width="66.6" height="23.3" fill="#8080ff"/>
<rect x="559.0" y="878.8" width="66.6" height="23.3" fill="#808080"/>
<rect x="761.7" y="832.6" width="66.6" height="23.3" fill="#80bf80"/>
<rect x="761.7" y="878.8" width="66.6" height="23.3" fill="#ff8080"/>
<text x="651.8" y="856.1" font-size="34.4" textLength="33.3" lengthAdjust="spacingAndGlyphs">29</text>
<text x="683.7" y="854.4" font-size="31">°</text>
<text x="651.8" y="902.4" font-size="34.4" textLength="33.3" lengthAdjust="spacingAndGlyphs">35</text>
<text x="683.7" y="900.7" font-size="31">°</text>
<text x="854.5" y="856.1" font-size="34.4" textLength="33.3" lengthAdjust="spacingAndGlyphs">32</text>
<text x="886.4" y="854.4" font-size="31">°</text>
<text x="854.5" y="902.4" font-size="34.4" textLength="33.3" lengthAdjust="spacingAndGlyphs">40</text>
<text x="886.4" y="900.7" font-size="31">°</text>
<g transform="rotate(-90)">
<text x="-1071.5" y="483.4" font-size="33.3" textLength="84.5" lengthAdjust="spacingAndGlyphs">Count</text>
</g>
<text x="838.5" y="1388.7" font-size="34.5" font-style="italic" textLength="18.5" lengthAdjust="spacingAndGlyphs">ρ</text>
<text x="856.5" y="1393.1" font-size="25" textLength="42.5" lengthAdjust="spacingAndGlyphs">bulk</text>
<text x="912.4" y="1390.6" font-size="38.5" textLength="10.5" lengthAdjust="spacingAndGlyphs">[</text>
<text x="919.6" y="1388.7" font-size="33.3" textLength="17.5" lengthAdjust="spacingAndGlyphs">g</text>
<text x="946.6" y="1388.7" font-size="33.3" textLength="41.5" lengthAdjust="spacingAndGlyphs">cm</text>
<text x="990" y="1373" font-size="21" textLength="27" lengthAdjust="spacingAndGlyphs">−3</text>
<text x="1016.2" y="1390.6" font-size="38.5" textLength="10.5" lengthAdjust="spacingAndGlyphs">]</text>
<text x="787.8" y="1445.3" font-size="30" textLength="229" lengthAdjust="spacingAndGlyphs">(c) Bulk Density</text>
</g>
</svg></body></html>
